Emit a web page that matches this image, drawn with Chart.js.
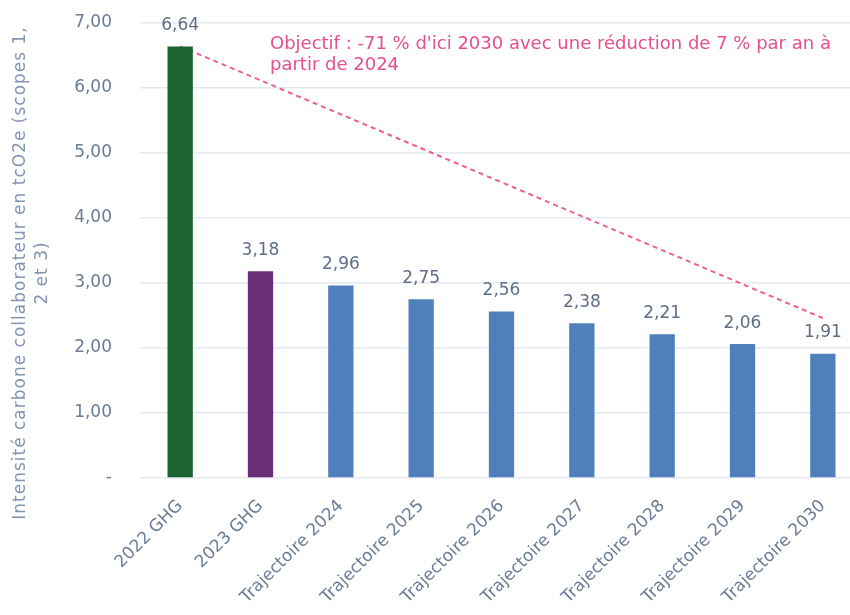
<!DOCTYPE html>
<html>
<head>
<meta charset="utf-8">
<script src="https://cdn.jsdelivr.net/npm/chart.js@4.4.1/dist/chart.umd.min.js"></script>
<style>
  body { margin: 0; background: #fff; overflow: hidden; }
  #wrap { width: 863px; height: 615px; position: relative; }
</style>
</head>
<body>
<div id="wrap"><canvas id="carbonChart"></canvas></div>
<script>
// Chart data
const categories = ['2022 GHG', '2023 GHG', 'Trajectoire 2024', 'Trajectoire 2025', 'Trajectoire 2026',
    'Trajectoire 2027', 'Trajectoire 2028', 'Trajectoire 2029', 'Trajectoire 2030'];
const intensity = [6.64, 3.18, 2.96, 2.75, 2.56, 2.38, 2.21, 2.06, 1.91];
const barColors = ['#1c6330', '#6a2f79', '#5080bb', '#5080bb', '#5080bb', '#5080bb', '#5080bb', '#5080bb', '#5080bb'];
// dashed objective line: start and end values
const objectiveLine = [6.64, null, null, null, null, null, null, null, 2.46];
const yTicks = [0, 1, 2, 3, 4, 5, 6, 7];
const axisTitle = ['Intensité carbone collaborateur en tcO2e (scopes 1,', '2 et 3)'];
const noteLines = ['Objectif : -71 % d\'ici 2030 avec une réduction de 7 % par an à', 'partir de 2024'];

const FONT = 'DejaVu Sans';
const fmt = v => v.toFixed(2).replace('.', ',');

// draws value labels, the y axis title and the objective note
const extrasPlugin = {
    id: 'extras',
    afterDatasetsDraw(chart) {
        const ctx = chart.ctx;
        const meta = chart.getDatasetMeta(1);
        ctx.save();
        ctx.font = '17px "' + FONT + '"';
        ctx.fillStyle = '#5f6e88';
        ctx.textAlign = 'center';
        ctx.textBaseline = 'middle';
        meta.data.forEach((bar, i) => {
            ctx.fillText(fmt(intensity[i]), bar.x, bar.y - 21);
        });

        // note text
        ctx.font = '18px "' + FONT + '"';
        ctx.fillStyle = '#e5508a';
        ctx.textAlign = 'left';
        ctx.fillText(noteLines[0], 270, 44);
        ctx.fillText(noteLines[1], 270, 65);

        // y axis title
        ctx.fillStyle = '#8394b3';
        ctx.font = '17px "' + FONT + '"';
        ctx.letterSpacing = '1px';
        ctx.textAlign = 'center';
        ctx.save();
        ctx.translate(21, 273);
        ctx.rotate(-Math.PI / 2);
        ctx.fillText(axisTitle[0], 0, 0);
        ctx.fillText(axisTitle[1], 0, 22);
        ctx.restore();
        ctx.letterSpacing = '0px';
        ctx.restore();
    }
};

const ctx = document.getElementById('carbonChart').getContext('2d');
new Chart(ctx, {
    data: {
        labels: categories,
        datasets: [{
            type: 'line',
            data: objectiveLine,
            spanGaps: true,
            borderColor: '#ec5f92',
            borderWidth: 2,
            borderDash: [5, 4],
            pointRadius: 0,
            order: 2
        }, {
            type: 'bar',
            data: intensity,
            backgroundColor: barColors,
            categoryPercentage: 1,
            barPercentage: 0.315,
            order: 1
        }]
    },
    options: {
        responsive: true,
        maintainAspectRatio: false,
        animation: false,
        layout: { padding: { top: 23, right: 0, left: 0, bottom: 0 } },
        plugins: {
            legend: { display: false },
            tooltip: { enabled: false }
        },
        scales: {
            x: {
                grid: { display: false },
                border: { display: false },
                ticks: {
                    color: '#6b7b97',
                    font: { family: FONT, size: 17 },
                    maxRotation: 45,
                    minRotation: 45,
                    padding: 10,
                    autoSkip: false
                },
                afterFit(scale) { scale.height = 137; }
            },
            y: {
                min: 0,
                max: 7,
                afterBuildTicks(scale) { scale.ticks = yTicks.map(v => ({ value: v })); },
                grid: { color: '#e4e8f0', lineWidth: 1.5, drawTicks: false },
                border: { display: false },
                ticks: {
                    color: '#6b7b97',
                    font: { family: FONT, size: 17 },
                    padding: 28,
                    callback: v => v === 0 ? '-' : fmt(v)
                },
                afterFit(scale) {
                    scale.width = 140;
                    scale.paddingTop = 0;
                    scale.paddingBottom = 0;
                }
            }
        }
    },
    plugins: [extrasPlugin]
});
</script>
</body>
</html>
